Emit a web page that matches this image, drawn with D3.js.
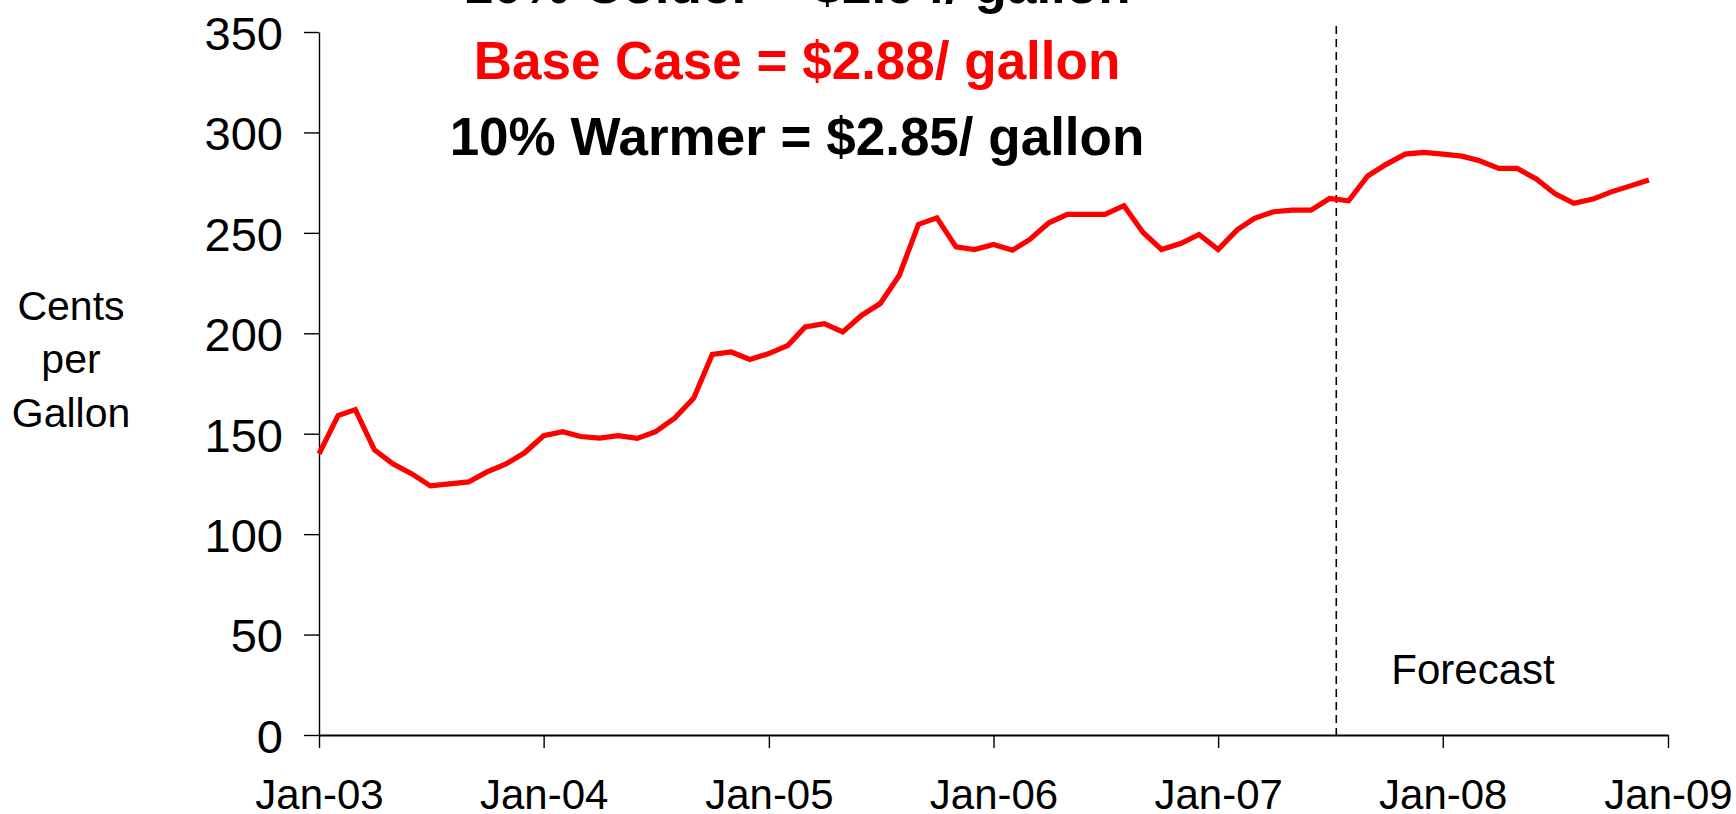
<!DOCTYPE html>
<html>
<head>
<meta charset="utf-8">
<script src="https://cdn.jsdelivr.net/npm/d3@7"></script>
<style>
  html, body { margin: 0; padding: 0; background: #fff; }
  svg { display: block; }
  text { font-family: "Liberation Sans", Arial, Helvetica, sans-serif; }
</style>
</head>
<body>
<div id="chart"></div>
<script>
// ---- Data (cents per gallon, monthly Jan-2003 .. Dec-2008) ----
const startYear = 2003;
const prices2003 = [140, 159, 162, 142, 135, 130, 124, 125, 126, 131, 135, 140.5];
const prices2004 = [149, 151, 148.6, 147.8, 149, 147.7, 151, 157.8, 167.8, 189.5, 190.7, 187];
const prices2005 = [189.9, 194, 203.2, 204.8, 200.7, 209, 214.8, 228.9, 254.2, 257.5, 243, 241.7];
const prices2006 = [244.2, 241.4, 246.7, 255, 259.2, 259.2, 259.2, 263.5, 250.2, 241.7, 244.7, 249.2];
const prices2007 = [241.7, 251.5, 257.2, 260.5, 261.3, 261.3, 267.1, 266, 278.3, 284.1, 289.2, 290.1];
const prices2008 = [289.2, 288.2, 285.9, 282.1, 282.1, 276.8, 269.6, 264.7, 266.8, 270.4, 273.4, 276.3];

const yTicks = [0, 50, 100, 150, 200, 250, 300, 350];
const xTickYears = [2003, 2004, 2005, 2006, 2007, 2008, 2009];
const forecastStart = [2007, 6, 12];   // year, month index, day
const forecastTopValue = 353;

const titleLines = [
  "10% Colder = $2.94/ gallon",
  "Base Case = $2.88/ gallon",
  "10% Warmer = $2.85/ gallon"
];
const titleColors = ["#000000", "#ff0000", "#000000"];
const yLabelLines = ["Cents", "per", "Gallon"];
const forecastLabel = "Forecast";

// ---- Build series ----
const allYears = [prices2003, prices2004, prices2005, prices2006, prices2007, prices2008];
const series = [];
allYears.forEach((arr, yi) => {
  arr.forEach((v, m) => series.push({ date: new Date(startYear + yi, m, 1), value: v }));
});

// ---- Layout ----
const W = 1736, H = 814;
const margin = { left: 319, right: 68, top: 32, bottom: 79 };
const innerBottom = H - margin.bottom; // 735

const svg = d3.select("#chart").append("svg")
  .attr("width", W).attr("height", H);

const x = d3.scaleTime()
  .domain([new Date(2003, 0, 1), new Date(2009, 0, 1)])
  .range([margin.left, W - margin.right]);

const y = d3.scaleLinear()
  .domain([0, 350])
  .range([innerBottom, margin.top]);

// ---- Y axis ----
const yAxis = d3.axisLeft(y)
  .tickValues(yTicks)
  .tickSize(15)
  .tickSizeOuter(0)
  .tickPadding(21)
  .tickFormat(d3.format("d"));

const gy = svg.append("g")
  .attr("transform", `translate(${margin.left},0)`)
  .call(yAxis);
gy.select(".domain").attr("stroke", "#000").attr("stroke-width", 1.4);
gy.selectAll(".tick line").attr("stroke", "#000").attr("stroke-width", 1.4);
gy.selectAll(".tick text")
  .attr("fill", "#000")
  .attr("dy", "0.37em")
  .style("font-size", "47px");

// ---- X axis ----
const xAxis = d3.axisBottom(x)
  .tickValues(xTickYears.map(yr => new Date(yr, 0, 1)))
  .tickSize(13)
  .tickSizeOuter(0)
  .tickPadding(31)
  .tickFormat(d3.timeFormat("%b-%y"));

const gx = svg.append("g")
  .attr("transform", `translate(0,${innerBottom})`)
  .call(xAxis);
gx.select(".domain").attr("stroke", "#000").attr("stroke-width", 2);
gx.selectAll(".tick line").attr("stroke", "#000").attr("stroke-width", 1.4);
gx.selectAll(".tick text")
  .attr("fill", "#000")
  .style("font-size", "42px");

// ---- Forecast divider ----
const fDate = new Date(forecastStart[0], forecastStart[1], forecastStart[2]);
svg.append("line")
  .attr("x1", x(fDate)).attr("x2", x(fDate))
  .attr("y1", y(forecastTopValue)).attr("y2", y(0))
  .attr("stroke", "#000")
  .attr("stroke-width", 1.6)
  .attr("stroke-dasharray", "8,5");

svg.append("text")
  .attr("x", x(fDate) + 55)
  .attr("y", 684)
  .attr("fill", "#000")
  .style("font-size", "42px")
  .text(forecastLabel);

// ---- Line ----
const line = d3.line()
  .x(d => x(d.date))
  .y(d => y(d.value));

svg.append("path")
  .datum(series)
  .attr("fill", "none")
  .attr("stroke", "#ff0000")
  .attr("stroke-width", 5.2)
  .attr("stroke-linejoin", "miter")
  .attr("d", line);

// ---- Titles ----
const titleX = 797;
const titleBaselines = [3, 79, 155];
svg.selectAll("text.title")
  .data(titleLines)
  .enter().append("text")
  .attr("class", "title")
  .attr("x", titleX)
  .attr("y", (d, i) => titleBaselines[i])
  .attr("text-anchor", "middle")
  .attr("fill", (d, i) => titleColors[i])
  .style("font-size", "53px")
  .style("font-weight", "bold")
  .text(d => d);

// ---- Y label ----
const yLabelBaselines = [320, 373, 427];
svg.selectAll("text.ylab")
  .data(yLabelLines)
  .enter().append("text")
  .attr("class", "ylab")
  .attr("x", 71)
  .attr("y", (d, i) => yLabelBaselines[i])
  .attr("text-anchor", "middle")
  .attr("fill", "#000")
  .style("font-size", "41px")
  .text(d => d);
</script>
</body>
</html>
